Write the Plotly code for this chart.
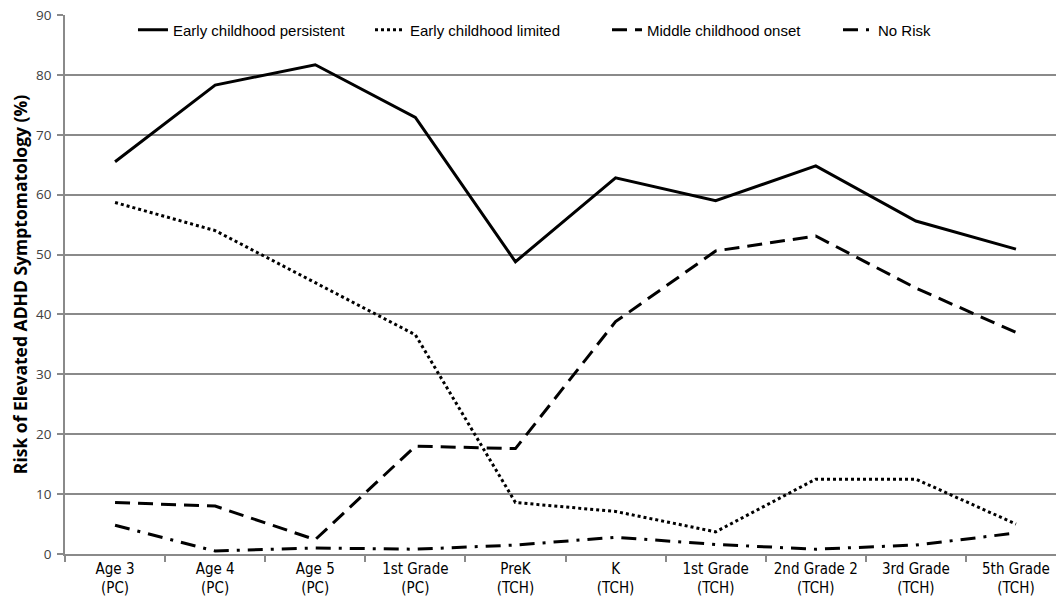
import plotly.graph_objects as go

categories = ["Age 3<br>(PC)", "Age 4<br>(PC)", "Age 5<br>(PC)", "1st Grade<br>(PC)",
              "PreK<br>(TCH)", "K<br>(TCH)", "1st Grade<br>(TCH)", "2nd Grade 2<br>(TCH)",
              "3rd Grade<br>(TCH)", "5th Grade<br>(TCH)"]
early_persistent = [65.5, 78.3, 81.7, 72.9, 48.8, 62.8, 59.0, 64.8, 55.6, 50.9]
early_limited = [58.7, 54.0, 45.3, 36.6, 8.6, 7.1, 3.7, 12.5, 12.5, 5.0]
middle_onset = [8.6, 8.0, 2.4, 18.0, 17.6, 38.8, 50.6, 53.1, 44.4, 37.0]
no_risk = [4.8, 0.5, 1.0, 0.8, 1.5, 2.8, 1.6, 0.8, 1.5, 3.5]

series = [
    ("Early childhood persistent", early_persistent, "solid", "legend"),
    ("Early childhood limited", early_limited, "3px,3px", "legend"),
    ("Middle childhood onset", middle_onset, "15px,8px", "legend"),
    ("No Risk", no_risk, "15px,8px,3px,8px", "legend2"),
]

fig = go.Figure()
for name, vals, dash, leg in series:
    fig.add_trace(go.Scatter(x=categories, y=vals, mode="lines", name=name, legend=leg,
                             line=dict(color="black", width=3, dash=dash)))

sans = "Liberation Sans, Arial, sans-serif"
legend_common = dict(orientation="h", xanchor="left", y=0.972, yanchor="middle",
                     font=dict(family=sans, size=15, color="black"),
                     itemwidth=30, bgcolor="rgba(0,0,0,0)")
fig.update_layout(
    width=1056, height=607,
    margin=dict(l=65, r=0, t=15, b=53),
    paper_bgcolor="white", plot_bgcolor="white",
    showlegend=True,
    legend=dict(x=0.0686, entrywidth=192, **legend_common),
    legend2=dict(x=0.780, **legend_common),
    xaxis=dict(type="category", range=[-0.5, 9.4], tickson="boundaries",
               ticks="outside", ticklen=6, tickcolor="#8a8a8a", tickwidth=1.5,
               showgrid=False, showline=True, linecolor="#8a8a8a", linewidth=1.5,
               ticklabeloverflow="allow",
               tickfont=dict(family="DejaVu Sans Condensed, Liberation Sans, sans-serif",
                             size=15, color="black")),
    yaxis=dict(range=[0, 90], dtick=10, ticks="outside", ticklen=6, tickcolor="#8a8a8a",
               tickwidth=1.5, showline=True, linecolor="#8a8a8a", linewidth=1.5,
               showgrid=True, gridcolor="#8a8a8a", gridwidth=1.5, zeroline=False,
               ticklabelstandoff=3,
               tickfont=dict(family="Open Sans, sans-serif", size=13.5, color="#404040"),
               title=dict(text="<b>Risk of Elevated ADHD Symptomatology (%)</b>",
                          font=dict(family="Open Sans, sans-serif", size=17.5, color="black"),
                          standoff=4)),
)

fig.write_html("out.html", config={"displayModeBar": False},
               post_script="document.body.style.margin='0';document.body.style.overflow='hidden';")
